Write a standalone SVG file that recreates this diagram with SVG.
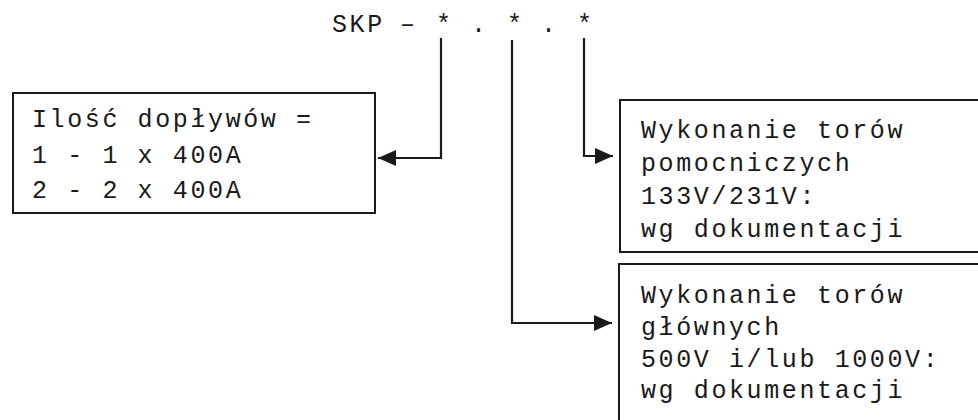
<svg xmlns="http://www.w3.org/2000/svg" width="978" height="420" viewBox="0 0 978 420">
<style>
.t{font-family:"Liberation Mono","Courier New",monospace;font-size:25px;letter-spacing:2.6px;fill:#1a1a1a}
.box{fill:#fff;stroke:#1a1a1a;stroke-width:2}
.ln{fill:none;stroke:#1a1a1a;stroke-width:2.2}
</style>
<defs>
<marker id="ah" viewBox="0 0 18 16" refX="18" refY="8" markerWidth="18" markerHeight="16" markerUnits="userSpaceOnUse" orient="auto">
<path d="M0,0 L18,8 L0,16 Z" fill="#1a1a1a"/>
</marker>
</defs>
<rect width="978" height="420" fill="#fff"/>
<g id="title">
<text class="t" y="32"><tspan x="332">SKP</tspan><tspan x="400">–</tspan><tspan x="436">*</tspan><tspan x="471">.</tspan><tspan x="507">*</tspan><tspan x="541">.</tspan><tspan x="577">*</tspan></text>
</g>
<g id="node-doplywy">
<rect class="box" x="13" y="93" width="362" height="120"/>
<text class="t" x="32" y="127">Ilość dopływów =</text>
<text class="t" x="32" y="163">1 - 1 x 400A</text>
<text class="t" x="32" y="198">2 - 2 x 400A</text>
</g>
<g id="node-pomocnicze">
<rect class="box" x="620" y="100" width="370" height="152"/>
<text class="t" x="641" y="138">Wykonanie torów</text>
<text class="t" x="641" y="171">pomocniczych</text>
<text class="t" x="641" y="204">133V/231V:</text>
<text class="t" x="641" y="237">wg dokumentacji</text>
</g>
<g id="node-glowne">
<rect class="box" x="619" y="264" width="370" height="170"/>
<text class="t" x="641" y="303">Wykonanie torów</text>
<text class="t" x="641" y="335">głównych</text>
<text class="t" x="641" y="367">500V i/lub 1000V:</text>
<text class="t" x="641" y="398">wg dokumentacji</text>
</g>
<g id="connectors">
<path class="ln" d="M441,38 V158 H378" marker-end="url(#ah)"/>
<path class="ln" d="M584,38 V156 H613" marker-end="url(#ah)"/>
<path class="ln" d="M512,40 V323 H612" marker-end="url(#ah)"/>
</g>
</svg>
